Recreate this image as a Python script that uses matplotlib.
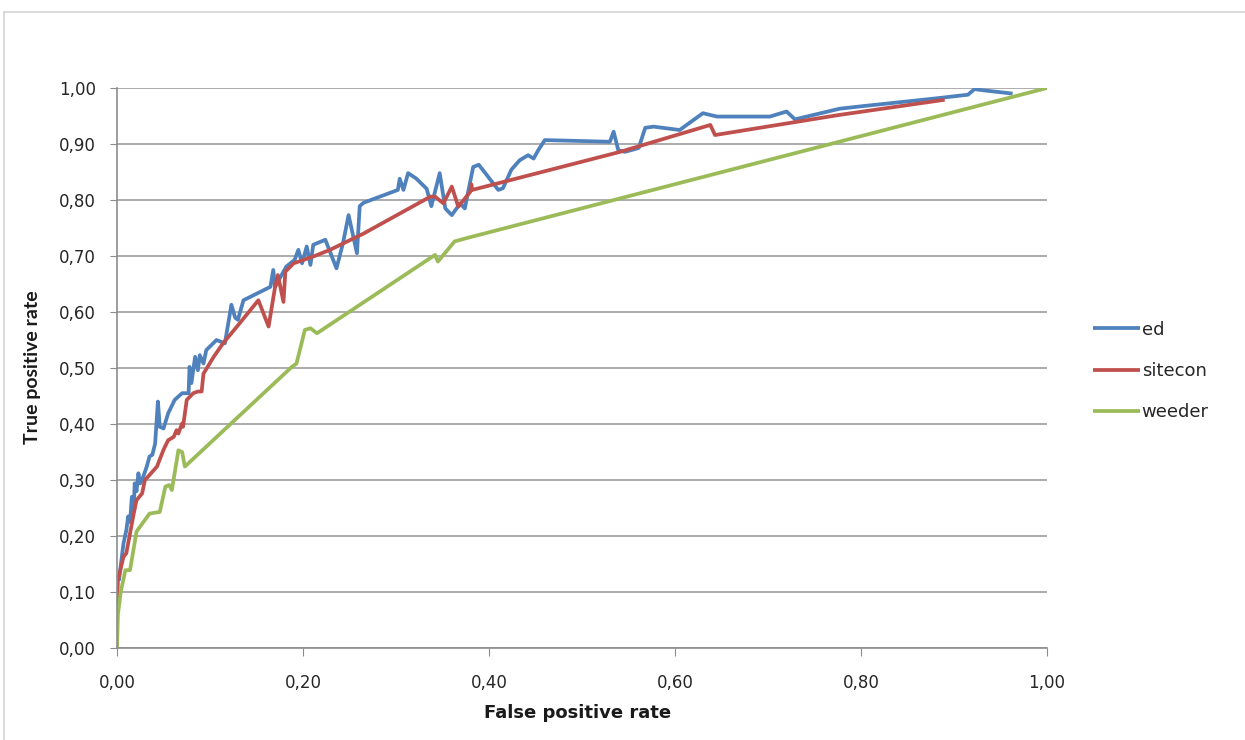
import matplotlib.pyplot as plt
from matplotlib.lines import Line2D
from matplotlib.ticker import FuncFormatter, MultipleLocator

# --- ROC data ---
ed_fpr = [0.002, 0.007, 0.010, 0.012, 0.014, 0.016, 0.018, 0.019, 0.021, 0.023,
          0.025, 0.028, 0.032, 0.035, 0.038, 0.041, 0.044, 0.046, 0.050, 0.055,
          0.062, 0.070, 0.077, 0.078, 0.080, 0.084, 0.087, 0.089, 0.093, 0.096,
          0.107, 0.116, 0.123, 0.127, 0.130, 0.136, 0.165, 0.168, 0.170, 0.182,
          0.191, 0.195, 0.199, 0.204, 0.208, 0.211, 0.224, 0.236, 0.243, 0.249,
          0.258, 0.261, 0.265, 0.302, 0.304, 0.308, 0.313, 0.322, 0.333, 0.338,
          0.347, 0.353, 0.360, 0.369, 0.374, 0.383, 0.389, 0.410, 0.415, 0.424,
          0.433, 0.442, 0.448, 0.453, 0.460, 0.530, 0.534, 0.539, 0.546, 0.555,
          0.561, 0.568, 0.577, 0.605, 0.630, 0.645, 0.702, 0.720, 0.729, 0.777,
          0.804, 0.878, 0.915, 0.922, 0.931, 0.963]
ed_tpr = [0.120, 0.187, 0.210, 0.235, 0.225, 0.270, 0.246, 0.294, 0.280, 0.312,
          0.294, 0.305, 0.324, 0.342, 0.345, 0.365, 0.440, 0.395, 0.392, 0.419,
          0.443, 0.455, 0.455, 0.502, 0.473, 0.520, 0.496, 0.523, 0.508, 0.532,
          0.550, 0.544, 0.613, 0.590, 0.586, 0.621, 0.645, 0.675, 0.645, 0.681,
          0.693, 0.711, 0.687, 0.717, 0.684, 0.720, 0.729, 0.678, 0.723, 0.773,
          0.705, 0.789, 0.795, 0.818, 0.838, 0.818, 0.848, 0.838, 0.820, 0.789,
          0.848, 0.785, 0.773, 0.794, 0.785, 0.859, 0.863, 0.818, 0.821, 0.854,
          0.871, 0.880, 0.874, 0.889, 0.907, 0.904, 0.922, 0.889, 0.886, 0.890,
          0.893, 0.929, 0.931, 0.925, 0.955, 0.949, 0.949, 0.958, 0.944, 0.963,
          0.968, 0.981, 0.988, 0.998, 0.996, 0.990]

sitecon_fpr = [0.000, 0.001, 0.007, 0.010, 0.018, 0.021, 0.027, 0.030, 0.035, 0.043,
               0.050, 0.055, 0.061, 0.064, 0.066, 0.070, 0.071, 0.075, 0.082, 0.087,
               0.091, 0.093, 0.104, 0.114, 0.129, 0.152, 0.163, 0.170, 0.173, 0.179,
               0.181, 0.190, 0.211, 0.229, 0.265, 0.301, 0.337, 0.342, 0.351, 0.360,
               0.367, 0.380, 0.381, 0.382, 0.541, 0.638, 0.643, 0.777, 0.890]
sitecon_tpr = [0.070, 0.121, 0.163, 0.169, 0.240, 0.264, 0.276, 0.300, 0.309, 0.324,
               0.354, 0.371, 0.377, 0.389, 0.383, 0.401, 0.395, 0.443, 0.455, 0.458,
               0.458, 0.490, 0.520, 0.544, 0.574, 0.621, 0.574, 0.645, 0.666, 0.618,
               0.672, 0.687, 0.699, 0.711, 0.740, 0.773, 0.806, 0.806, 0.794, 0.824,
               0.788, 0.815, 0.828, 0.818, 0.886, 0.934, 0.916, 0.952, 0.979]

weeder_fpr = [0.000, 0.001, 0.004, 0.009, 0.014, 0.021, 0.035, 0.046, 0.052, 0.056,
              0.059, 0.066, 0.070, 0.073, 0.188, 0.193, 0.202, 0.208, 0.215, 0.342,
              0.345, 0.363, 0.376, 1.000]
weeder_tpr = [0.000, 0.060, 0.100, 0.139, 0.139, 0.208, 0.240, 0.243, 0.288, 0.291,
              0.282, 0.353, 0.350, 0.324, 0.502, 0.508, 0.568, 0.571, 0.562, 0.702,
              0.690, 0.726, 0.732, 1.000]

series = [("ed", ed_fpr, ed_tpr, "#4F81BD"),
          ("sitecon", sitecon_fpr, sitecon_tpr, "#C0504D"),
          ("weeder", weeder_fpr, weeder_tpr, "#9BBB59")]

W, H = 1245, 740
fig = plt.figure(figsize=(W / 100, H / 100), dpi=100)
ax = fig.add_axes([117 / W, (H - 648) / H, 930 / W, 560 / H])

for name, x, y, c in series:
    ax.plot(x, y, color=c, lw=2.7, label=name, solid_joinstyle="round",
            solid_capstyle="butt")

ax.set_xlim(0, 1)
ax.set_ylim(0, 1)
ax.xaxis.set_major_locator(MultipleLocator(0.2))
ax.yaxis.set_major_locator(MultipleLocator(0.1))
comma = FuncFormatter(lambda v, p: f"{v:.2f}".replace(".", ","))
ax.xaxis.set_major_formatter(comma)
ax.yaxis.set_major_formatter(comma)

# --- Formatting ---
ax.grid(axis="y", color="#a6a6a6", lw=1.3)
ax.set_axisbelow(True)
for s in ["top", "right"]:
    ax.spines[s].set_visible(False)
for s in ["left", "bottom"]:
    ax.spines[s].set_color("#8c8c8c")
    ax.spines[s].set_linewidth(1.2)
ax.tick_params(axis="y", length=5, color="#8c8c8c", pad=10,
               labelsize=12, labelcolor="#262626")
ax.tick_params(axis="x", length=6, color="#8c8c8c", pad=13,
               labelsize=12, labelcolor="#262626")

fig.text(578 / W, 1 - 713 / H, "False positive rate", ha="center", va="center",
         fontsize=13, fontweight="bold", color="#1a1a1a")
fig.text(33 / W, 1 - 367 / H, "True positive rate", ha="center", va="center",
         rotation=90, fontsize=14, fontweight="bold", family="Lato",
         color="#1a1a1a")

ax.legend(loc="center left", bbox_to_anchor=(1093 / W, 1 - 371 / H),
          bbox_transform=fig.transFigure, frameon=False, fontsize=13,
          handlelength=2.6, handletextpad=0.1, labelspacing=1.3, borderpad=0,
          borderaxespad=0, labelcolor="#262626")

# light outer frame of the chart area
fig.add_artist(Line2D([4 / W, 4 / W], [0, 1 - 12 / H], transform=fig.transFigure,
                      color="#d4d4d4", lw=1.2))
fig.add_artist(Line2D([4 / W, 1], [1 - 12 / H, 1 - 12 / H], transform=fig.transFigure,
                      color="#d4d4d4", lw=1.2))

fig.savefig("out.png", dpi=100)
